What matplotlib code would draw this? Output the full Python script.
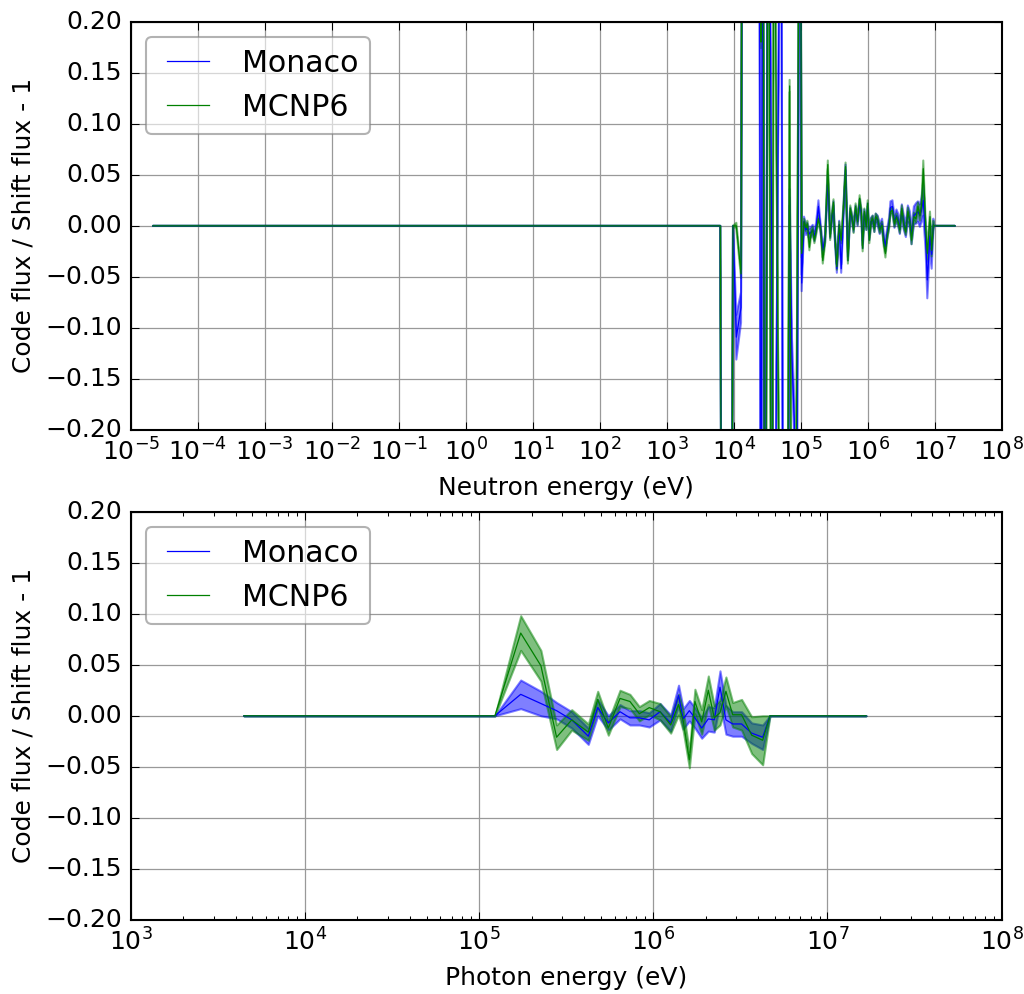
import numpy as np
import matplotlib
matplotlib.use("Agg")
import matplotlib.pyplot as plt
from matplotlib.ticker import LogLocator, MultipleLocator

plt.style.use("classic")
plt.rcParams["mathtext.fontset"] = "dejavusans"
plt.rcParams["font.family"] = ["DejaVu Sans"]

# ---- neutron flux ratios (log10 of group energy in eV) ----
neutron_log_e = [
    -4.667, 3.80, 3.83, 3.96, 3.99, 4.04, 4.11, 4.134, 4.24, 4.38, 4.408, 4.433,
    4.468, 4.517, 4.567, 4.602, 4.706, 4.741, 4.80, 4.835, 4.87, 4.905, 4.93, 4.99,
    5.015, 5.05, 5.08, 5.10, 5.13, 5.155, 5.18, 5.205, 5.23, 5.265,
    5.30, 5.33, 5.365, 5.405, 5.44, 5.465, 5.49, 5.505, 5.54, 5.575,
    5.605, 5.64, 5.67, 5.705, 5.74, 5.77, 5.79, 5.82, 5.85, 5.88,
    5.905, 5.925, 5.95, 5.98, 6.00, 6.025, 6.05, 6.075, 6.10, 6.12,
    6.15, 6.18, 6.215, 6.24, 6.265, 6.29, 6.32, 6.34, 6.37, 6.40,
    6.43, 6.455, 6.48, 6.51, 6.54, 6.57, 6.60, 6.63, 6.655, 6.69,
    6.72, 6.75, 6.78, 6.805, 6.83, 6.865, 6.89, 6.93, 6.955, 6.98,
    6.995, 7.30,
]
neutron_monaco = [
    0.0, 0.0, -0.6, -0.6, 0.0, -0.109, -0.08, 0.6, 0.6, 0.5, -0.5, 0.5,
    -0.5, 0.5, -0.01, -0.5, 0.5, -0.5, -0.5, 0.028, -0.13, -0.19, -0.5, 0.5,
    -0.056, 0.004, -0.004, -0.002, -0.008, -0.006, -0.004, -0.010, -0.002, 0.019,
    -0.004, -0.024, -0.012, 0.045, -0.008, 0.006, 0.020, -0.004, -0.042, 0.001,
    -0.042, 0.015, 0.055, -0.030, 0.014, 0.006, -0.002, 0.016, 0.004, 0.022,
    0.012, -0.018, 0.012, 0.000, 0.018, -0.010, 0.004, 0.006, -0.002, 0.008,
    0.005, -0.003, 0.002, -0.012, -0.020, -0.008, 0.003, 0.018, 0.019, 0.004,
    0.010, 0.006, -0.002, 0.014, 0.003, -0.004, 0.012, 0.006, -0.010, 0.010,
    0.012, 0.014, 0.010, 0.016, 0.025, -0.012, -0.053, -0.010, -0.028, 0.001,
    0.0, 0.0,
]
neutron_monaco_err = [
    0.0, 0.0, 0.01, 0.01, 0.0, 0.022, 0.015, 0.01, 0.01, 0.01, 0.01, 0.01,
    0.01, 0.01, 0.008, 0.01, 0.01, 0.01, 0.01, 0.008, 0.02, 0.02, 0.01, 0.01,
    0.008, 0.005, 0.005, 0.005, 0.005, 0.005, 0.005, 0.005, 0.005, 0.006,
    0.004, 0.004, 0.004, 0.005, 0.004, 0.004, 0.004, 0.004, 0.004, 0.004,
    0.004, 0.004, 0.005, 0.004, 0.004, 0.004, 0.004, 0.004, 0.004, 0.004,
    0.004, 0.004, 0.004, 0.004, 0.004, 0.004, 0.004, 0.004, 0.004, 0.004,
    0.005, 0.005, 0.005, 0.005, 0.005, 0.005, 0.005, 0.006, 0.006, 0.006,
    0.006, 0.006, 0.006, 0.007, 0.007, 0.007, 0.008, 0.008, 0.008, 0.009,
    0.010, 0.010, 0.011, 0.012, 0.015, 0.012, 0.018, 0.012, 0.014, 0.006,
    0.0, 0.0,
]
neutron_mcnp = [
    0.0, 0.0, -0.6, -0.6, 0.0, 0.0, -0.047, 0.6, 0.6, 0.5, 0.18, 0.5,
    -0.6, 0.5, -0.5, 0.4, -0.5, -0.4, -0.4, 0.137, -0.5, -0.4, -0.3, 0.5,
    -0.027, 0.004, -0.002, 0.002, -0.021, -0.007, -0.004, -0.014, -0.006, 0.007,
    -0.004, -0.034, -0.014, 0.060, -0.011, 0.009, 0.023, -0.004, -0.040, 0.001,
    -0.014, 0.019, 0.058, -0.034, 0.017, 0.006, -0.004, 0.019, 0.004, 0.027,
    0.014, -0.022, 0.014, -0.001, 0.022, -0.014, 0.004, 0.007, -0.003, 0.009,
    0.006, -0.004, 0.001, -0.017, -0.027, -0.011, 0.001, 0.014, 0.015, 0.002,
    0.009, 0.004, -0.004, 0.017, 0.001, -0.006, 0.014, 0.004, -0.014, 0.009,
    0.007, 0.019, 0.010, 0.020, 0.056, -0.001, -0.027, 0.009, -0.024, 0.001,
    0.0, 0.0,
]
neutron_mcnp_err = [
    0.0, 0.0, 0.005, 0.005, 0.0, 0.003, 0.004, 0.005, 0.005, 0.005, 0.006, 0.005,
    0.005, 0.005, 0.005, 0.005, 0.005, 0.005, 0.005, 0.006, 0.005, 0.005, 0.005, 0.005,
    0.004, 0.003, 0.003, 0.003, 0.003, 0.003, 0.003, 0.003, 0.003, 0.003,
    0.003, 0.003, 0.003, 0.004, 0.003, 0.003, 0.003, 0.003, 0.003, 0.003,
    0.003, 0.003, 0.004, 0.003, 0.003, 0.003, 0.003, 0.003, 0.003, 0.003,
    0.003, 0.003, 0.003, 0.003, 0.003, 0.003, 0.003, 0.003, 0.003, 0.003,
    0.003, 0.003, 0.003, 0.003, 0.004, 0.003, 0.003, 0.003, 0.003, 0.003,
    0.003, 0.003, 0.003, 0.003, 0.003, 0.003, 0.004, 0.004, 0.004, 0.004,
    0.004, 0.004, 0.005, 0.005, 0.008, 0.005, 0.006, 0.005, 0.006, 0.004,
    0.0, 0.0,
]

# ---- photon flux ratios ----
photon_log_e = [
    3.650, 5.091, 5.239, 5.355, 5.445, 5.532, 5.627, 5.681, 5.742, 5.809,
    5.866, 5.920, 5.977, 6.039, 6.100, 6.145, 6.172, 6.207, 6.239, 6.278,
    6.316, 6.350, 6.383, 6.417, 6.456, 6.507, 6.565, 6.628, 6.670, 7.221,
]
photon_monaco = [
    0.0, 0.0, 0.021, 0.012, 0.005, -0.004, -0.020, 0.008, -0.007, 0.004,
    -0.002, -0.002, -0.004, 0.004, -0.007, 0.020, -0.003, 0.005, -0.002, -0.012,
    -0.003, -0.004, 0.028, -0.004, -0.008, -0.008, -0.017, -0.021, 0.0, 0.0,
]
photon_monaco_err = [
    0.0, 0.0, 0.014, 0.012, 0.008, 0.008, 0.008, 0.008, 0.007, 0.007,
    0.007, 0.007, 0.007, 0.008, 0.008, 0.010, 0.010, 0.010, 0.010, 0.010,
    0.012, 0.012, 0.016, 0.014, 0.012, 0.012, 0.010, 0.012, 0.0, 0.0,
]
photon_mcnp = [
    0.0, 0.0, 0.081, 0.049, -0.021, -0.004, -0.016, 0.016, -0.012, 0.017,
    0.014, 0.002, 0.008, 0.004, -0.009, 0.011, -0.005, -0.043, 0.014, -0.006,
    0.025, -0.002, 0.003, 0.024, 0.001, 0.001, -0.019, -0.024, 0.0, 0.0,
]
photon_mcnp_err = [
    0.0, 0.0, 0.017, 0.015, 0.012, 0.010, 0.008, 0.008, 0.007, 0.008,
    0.007, 0.007, 0.007, 0.008, 0.008, 0.010, 0.010, 0.008, 0.012, 0.012,
    0.014, 0.012, 0.012, 0.014, 0.012, 0.015, 0.018, 0.024, 0.0, 0.0,
]

fig = plt.figure(figsize=(1024 / 150, 994 / 150), dpi=150, facecolor="white")
ax_n = fig.add_axes([0.1276, 0.5674, 0.8506, 0.4108])
ax_p = fig.add_axes([0.1276, 0.0744, 0.8506, 0.4110])


def draw(ax, log_e, m, m_err, c, c_err, xlim, xlabel):
    e = np.power(10.0, np.asarray(log_e))
    m = np.asarray(m)
    m_err = np.asarray(m_err)
    c = np.asarray(c)
    c_err = np.asarray(c_err)
    ax.plot(e, m, color="b", lw=0.6, label="Monaco")
    ax.fill_between(e, m - m_err, m + m_err, color="b", alpha=0.5)
    ax.plot(e, c, color="g", lw=0.6, label="MCNP6")
    ax.fill_between(e, c - c_err, c + c_err, color="g", alpha=0.5)
    ax.set_xscale("log")
    ax.set_xlim(*xlim)
    ax.set_ylim(-0.2, 0.2)
    ax.yaxis.set_major_locator(MultipleLocator(0.05))
    ax.xaxis.set_major_locator(LogLocator(base=10, numticks=30))
    ax.grid(True, color="0.6", linestyle="-", linewidth=0.6)
    ax.set_axisbelow(True)
    ax.set_xlabel(xlabel)
    ax.set_ylabel("Code flux / Shift flux - 1")
    leg = ax.legend(loc="upper left", fontsize="large", fancybox=True,
                    framealpha=0.6, handlelength=2.0)
    leg.get_frame().set_edgecolor("0.5")


draw(ax_n, neutron_log_e, neutron_monaco, neutron_monaco_err,
     neutron_mcnp, neutron_mcnp_err, (1e-5, 1e8), "Neutron energy (eV)")
draw(ax_p, photon_log_e, photon_monaco, photon_monaco_err,
     photon_mcnp, photon_mcnp_err, (1e3, 1e8), "Photon energy (eV)")

fig.savefig("out.png", dpi=150, facecolor="white")
